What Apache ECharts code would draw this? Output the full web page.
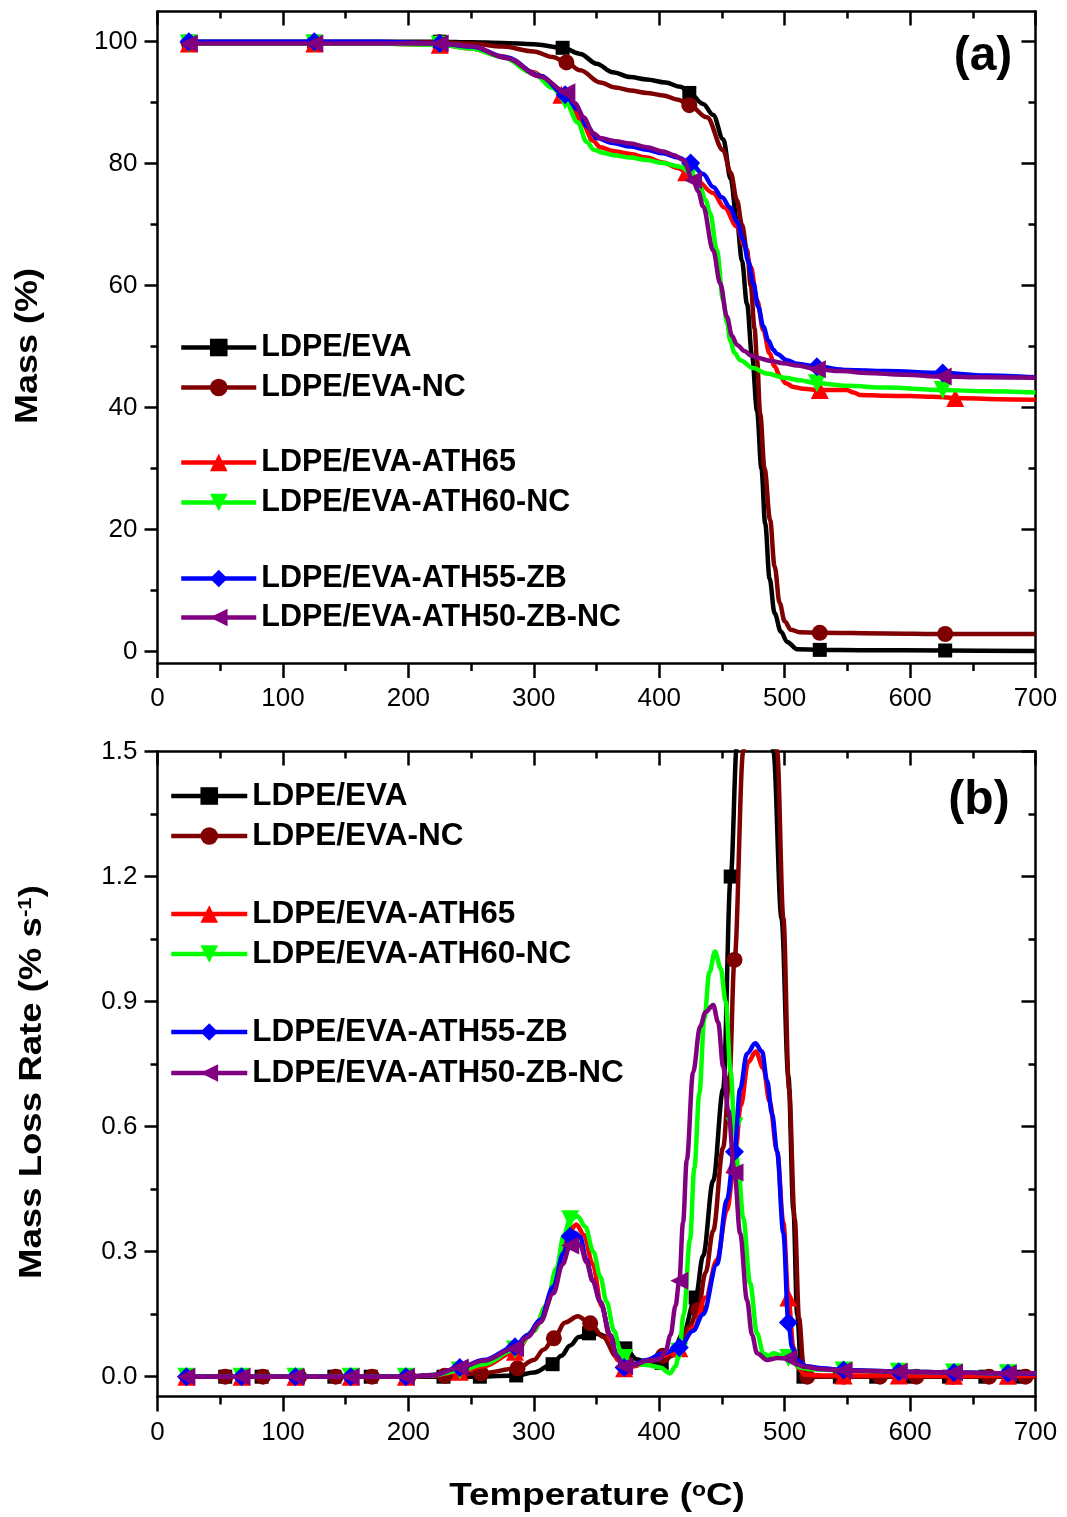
<!DOCTYPE html>
<html><head><meta charset="utf-8">
<script src="https://cdn.jsdelivr.net/npm/echarts@6/dist/echarts.min.js"></script>
<style>html,body{margin:0;padding:0;background:#fff}#c{width:1067px;height:1517px}</style>
</head><body><div id="c"></div>
<script>
const FONT = '"Liberation Sans", Arial, Helvetica, sans-serif';
const seriesNames = ['LDPE/EVA','LDPE/EVA-NC','LDPE/EVA-ATH65','LDPE/EVA-ATH60-NC','LDPE/EVA-ATH55-ZB','LDPE/EVA-ATH50-ZB-NC'];
const colors = ['#000000','#7f0000','#ff0000','#00ff00','#0000ff','#800080'];
const symbols = ['rect','circle','triangle','triangle','diamond','triangle'];
const rotations = [0,0,0,180,0,90];
const symbolSizes = [14,16,18,18,19,18];

const xTickLabels = [0,100,200,300,400,500,600,700];
const yTicksA = [0,20,40,60,80,100];
const yMinorA = [10,30,50,70,90];
const yTicksB = [0,0.3,0.6,0.9,1.2,1.5];
const yMinorB = [0.15,0.45,0.75,1.05,1.35];

// ---------- Panel (a): Mass (%) vs Temperature ----------
const massA_black = [[25,100],[75,100],[125,100],[175,100],[225,100],[250,99.9],[275,99.8],[300,99.6],[323,99.0],[337,98.0],[350,96.4],[363,95.0],[377,94.2],[390,93.8],[405,93.3],[417,92.6],[424,91.6],[435,89.8],[443,88.0],[451,84],[457,77.5],[462,70.5],[466,64],[470,57],[474,48.5],[478,39.5],[481.5,30],[484.5,21],[488,12],[492,6.3],[497,3.3],[502,1.6],[510,0.4],[528,0.3],[560,0.25],[628,0.2],[700,0.1]];
const massA_brown = [[25,99.8],[75,99.8],[125,99.8],[175,99.9],[225,99.9],[250,99.7],[275,99.2],[300,98.4],[315,97.5],[326,96.6],[337,95.3],[353,93.3],[365,92.5],[377,92.0],[390,91.6],[403,91.2],[415,90.5],[424,89.6],[438,87.6],[451,82.2],[457,78.5],[462,74],[466,70],[470,65.8],[473,60],[476,53],[478,47.8],[480.5,39],[484,30],[488.4,21.6],[492,14],[496,8],[500,5],[505,3.6],[512,3.2],[528,3.1],[580,3.0],[628,2.9],[700,2.9]];
const massA_red = [[25,99.7],[75,99.7],[125,99.7],[175,99.7],[225,99.5],[250,98.9],[275,97.6],[300,95],[315,92.6],[322,91.3],[330,89.3],[339,86.5],[347,83.8],[353,82.7],[363,82.1],[377,81.6],[390,81.0],[403,80.2],[415,79.3],[421.5,78.6],[430,77.2],[443,75.2],[452,72.8],[462,69.7],[468,66.5],[473,63.1],[478,57.6],[483,52.7],[488,48.9],[492,46.8],[496.4,45.1],[501,44],[507,43.4],[515,43.1],[528,42.9],[549.6,42.9],[555,42.5],[560,42.1],[580,41.95],[600,41.9],[618.6,41.8],[636,41.6],[670,41.4],[700,41.3]];
const massA_green = [[25,99.7],[75,99.7],[125,99.7],[175,99.7],[225,99.5],[250,98.9],[275,97.5],[300,94.8],[315,92.4],[325,90.3],[335,86.8],[342,83.6],[348,82.3],[355,81.8],[363.5,81.4],[377,81.0],[390,80.6],[403,80.1],[416.6,79.5],[425,78.6],[432.6,76.2],[437,74],[440.6,71.9],[446,65.8],[451,57.6],[454,54],[456.6,51],[460,49],[464.6,47.8],[475,46.5],[485.8,45.6],[500,44.9],[512,44.5],[525.7,44],[550,43.6],[580,43.3],[626,42.9],[660,42.7],[700,42.5]];
const massA_blue = [[25,100],[75,100],[125,100],[175,100],[225,99.7],[250,99.2],[278.5,97.4],[305,94.4],[325,91.3],[335,88.9],[343,86],[350,84.2],[363,83.4],[377,82.8],[390,82.3],[403,81.7],[415,81],[425,80.1],[435,78.3],[443,76.2],[450,74.5],[456.6,72.8],[462,70.5],[467,67.5],[471,64],[475,60.4],[479,56.5],[483,53.3],[487,51],[491,49.5],[494,48.8],[501.7,47.8],[510,47.2],[525.7,46.7],[550,46.2],[580,46],[626,45.7],[660,45.3],[700,45]];
const massA_purple = [[25,99.7],[75,99.7],[125,99.7],[175,99.7],[225,99.7],[250,99.3],[278.5,97.3],[305,94.3],[326,91.7],[333,89.9],[339.5,87.6],[347.5,85],[353,84.2],[365,83.7],[377,83.3],[390,82.7],[403,82],[412,81.4],[419,80.6],[427,77.3],[431,75.5],[435,73],[443,65.8],[448.6,60.4],[454,54.9],[458,51.8],[462,50.3],[468,49.3],[472.7,48.6],[478,48.2],[488,47.7],[499,47.3],[510,46.9],[525.7,46.3],[545,46],[565.5,45.7],[595,45.4],[626,45.1],[660,45],[700,44.9]];

const markA_black = [25,125,225,323,424,528,628];
const markA_brown = [25,125,225,326,424,528,628];
const markA_red = [25,125,225,322,421.5,528,636];
const markA_green = [25,125,225,325,425,525.7,626];
const markA_blue = [25,125,225,325,425,525.7,626];
const markA_purple = [25,125,225,326,427,525.7,626];

// ---------- Panel (b): Mass loss rate (% s-1) vs Temperature ----------
const rateB_black = [[25,0],[54,0],[83,0],[112,0],[141,0],[170,0],[199,0],[228,0],[257,0],[286,0.003],[300,0.01],[315,0.03],[322,0.05],[329,0.075],[336,0.095],[344,0.104],[352,0.102],[358,0.096],[365,0.085],[373,0.068],[382,0.042],[390,0.035],[402,0.033],[410,0.05],[419,0.104],[429,0.19],[435,0.29],[443,0.47],[451,0.69],[457,1.2],[462,1.52],[470,2.05],[478,2.4],[486,1.9],[491,1.5],[497.5,1.1],[503,0.72],[507,0.4],[510,0.15],[513,0.03],[515,0],[544,0],[573,0],[602,0],[631,0],[660,0],[689,0],[700,0]];
const rateB_brown = [[25,0],[54,0],[84,0],[113,0],[142,0],[171,0],[200,0],[229,0.002],[258,0.008],[287,0.02],[300,0.04],[308,0.065],[316,0.092],[325,0.13],[335,0.145],[345,0.128],[355,0.096],[366,0.048],[374,0.032],[385,0.03],[395,0.038],[403,0.05],[410,0.062],[417,0.085],[424,0.12],[431,0.16],[437,0.25],[443,0.35],[451,0.55],[456,0.72],[460,1.0],[467,1.5],[474,2.0],[481,2.35],[489,1.9],[494,1.5],[499,1.1],[503.5,0.69],[508,0.38],[511.5,0.14],[515,0.03],[518,0],[547,0],[576,0],[605,0],[634,0],[663,0],[692,0],[700,0]];
const rateB_red = [[23,0],[67,0],[110,0],[154,0],[198,0],[220,0.003],[241,0.012],[260,0.025],[285,0.06],[300,0.11],[310,0.17],[318,0.25],[324,0.32],[329,0.352],[334,0.365],[340,0.34],[347,0.27],[354,0.17],[361,0.09],[367,0.04],[372,0.02],[380,0.025],[390,0.035],[403,0.05],[416,0.068],[428,0.12],[437,0.19],[446,0.28],[454,0.4],[460,0.51],[465,0.65],[471,0.755],[477,0.78],[483,0.74],[488,0.66],[494,0.54],[499,0.37],[503,0.19],[507,0.07],[511,0.02],[516,0.005],[530,0.003],[547,0.003],[591,0.003],[635,0.002],[678,0.002],[700,0.002]];
const rateB_green = [[23,0],[67,0],[110,0],[154,0],[198,0],[220,0.004],[241,0.015],[260,0.03],[285,0.065],[300,0.11],[310,0.17],[318,0.26],[324,0.34],[329,0.378],[335,0.385],[341,0.36],[347.5,0.3],[353,0.24],[358,0.18],[364,0.11],[369,0.064],[372,0.045],[380,0.03],[390,0.028],[400.7,0.022],[408.7,0.008],[413,0.025],[416,0.06],[419.5,0.15],[424.6,0.33],[428,0.5],[432,0.68],[436,0.86],[440,0.97],[444.5,1.02],[449,0.98],[453,0.9],[457,0.73],[460,0.6],[463,0.5],[467,0.38],[472.5,0.224],[478,0.104],[483,0.056],[487,0.05],[491,0.056],[496,0.052],[503,0.045],[507,0.033],[512,0.022],[520,0.018],[547,0.015],[591,0.012],[635,0.01],[678,0.008],[700,0.008]];
const rateB_blue = [[23,0],[67,0],[110,0],[154,0],[198,0],[220,0.004],[241,0.022],[260,0.04],[285,0.072],[295,0.1],[305,0.136],[315.6,0.216],[323.6,0.296],[329,0.337],[333,0.345],[337,0.335],[342,0.28],[347,0.23],[353,0.18],[361,0.1],[366,0.05],[372,0.022],[380,0.03],[390,0.04],[403,0.056],[416,0.07],[427,0.11],[435,0.15],[446,0.27],[454,0.424],[460,0.54],[464.5,0.69],[470,0.775],[476.6,0.8],[482,0.78],[486,0.71],[490,0.63],[494,0.54],[499,0.344],[503,0.13],[506,0.07],[510,0.04],[517,0.025],[530,0.02],[547,0.016],[591,0.012],[635,0.01],[678,0.008],[700,0.007]];
const rateB_purple = [[23,0],[67,0],[110,0],[154,0],[198,0],[220,0.004],[241,0.022],[260,0.038],[285,0.068],[295,0.095],[305,0.13],[315.6,0.2],[323,0.27],[329,0.315],[333,0.325],[337,0.315],[342,0.275],[347,0.23],[353,0.18],[361,0.1],[366,0.05],[372,0.025],[380,0.028],[390,0.038],[400,0.042],[405,0.06],[409,0.1],[413,0.17],[416,0.23],[419,0.37],[422,0.52],[427,0.73],[432.6,0.84],[437,0.875],[443,0.892],[447,0.85],[451,0.744],[455,0.64],[460,0.49],[464.5,0.344],[470,0.184],[474,0.1],[478,0.056],[486,0.04],[494,0.045],[503,0.044],[510,0.03],[515,0.024],[530,0.018],[547,0.015],[591,0.012],[635,0.01],[678,0.008],[700,0.008]];

const markB_black = [54,83,112,141,170,199,228,257,286,315,344,373,402,429,457,486,515,544,573,602,631,660,689];
const markB_brown = [54,84,113,142,171,200,229,258,287,316,345,374,403,431,460,489,518,547,576,605,634,663,692];
const markB_ath = [23,67,110,154,198,241,285,329,372,416,460,503,547,591,635,678];

// ---------- build ----------
function buildData(points, markers){
  const set = new Set(markers);
  return points.map(p => set.has(p[0]) ? {value: p} : {value: p, symbol: 'none'});
}
function mkSeries(idx, points, markers, xi, yi){
  return {
    type: 'line', name: seriesNames[idx], xAxisIndex: xi, yAxisIndex: yi,
    data: buildData(points, markers), smooth: 0.35, smoothMonotone: 'x',
    symbol: symbols[idx], symbolRotate: rotations[idx], symbolSize: symbolSizes[idx],
    showSymbol: true, showAllSymbol: true, clip: true,
    lineStyle: {color: colors[idx], width: 4.5}, itemStyle: {color: colors[idx]},
    z: 2 + idx, animation: false, emphasis: {disabled: true}, silent: true
  };
}
const tickStyle = {color: '#000', width: 2.5};
const lineStyle = {color: '#000', width: 2.5};
function xAxisDef(gi, pos, labels){
  return {
    gridIndex: gi, type: 'value', min: 0, max: 700, interval: 100, position: pos,
    axisLine: {show: true, onZero: false, lineStyle},
    axisTick: {show: true, inside: pos === 'top', length: pos === 'top' ? 14 : 15, lineStyle: tickStyle},
    minorTick: {show: true, splitNumber: 2, length: pos === 'top' ? 7 : 8, lineStyle: tickStyle},
    axisLabel: {show: labels, margin: 23, fontSize: 26, color: '#000', fontFamily: FONT, customValues: xTickLabels},
    splitLine: {show: false}, minorSplitLine: {show: false}
  };
}
function hiddenX(gi){
  return {gridIndex: gi, type: 'value', min: 0, max: 700, show: false, splitLine: {show: false}};
}
function yAxisDef(gi, pos, min, max, ticks, labels, len, fmt, showLine){
  return {
    gridIndex: gi, type: 'value', min, max, position: pos,
    axisLine: {show: showLine, onZero: false, lineStyle},
    axisTick: {show: true, inside: pos === 'right', length: len, lineStyle: tickStyle, customValues: ticks},
    axisLabel: {show: labels, margin: 20, fontSize: 26, color: '#000', fontFamily: FONT, customValues: ticks, formatter: fmt},
    splitLine: {show: false}
  };
}
const fmtA = v => String(Math.round(v));
const fmtB = v => Number(v).toFixed(1);
const A_MIN = -1.85, A_MAX = 104.95, B_MIN = -0.0475, B_MAX = 1.5;

const gridA = {left: 157.5, top: 11.5, width: 878, height: 651.5};
const gridB = {left: 157.5, top: 751.5, width: 878, height: 645};

const legendCommon = {orient: 'vertical', padding: 0, itemHeight: 22,
  selectedMode: false, lineStyle: {width: 4.5}, symbolRotate: 'inherit'};
function legendDef(names, left, top, fs, gap, iw){
  return Object.assign({}, legendCommon, {data: names, left, top, itemGap: gap, itemWidth: iw,
    textStyle: {fontSize: fs, fontWeight: 'bold', color: '#000', fontFamily: FONT, lineHeight: fs}});
}
const supStyle = (fs) => ({fontSize: fs, fontWeight: 'bold', fontFamily: FONT, fill: '#000', verticalAlign: 'top', lineHeight: 12});

const option = {
  animation: false,
  backgroundColor: '#fff',
  grid: [
    Object.assign({outerBoundsMode: 'none'}, gridA),
    Object.assign({outerBoundsMode: 'none'}, gridA),
    Object.assign({outerBoundsMode: 'none'}, gridB),
    Object.assign({outerBoundsMode: 'none'}, gridB)
  ],
  xAxis: [
    xAxisDef(0, 'bottom', true), xAxisDef(0, 'top', false), hiddenX(1),
    xAxisDef(2, 'bottom', true), xAxisDef(2, 'top', false), hiddenX(3)
  ],
  yAxis: [
    yAxisDef(0, 'left', A_MIN, A_MAX, yTicksA, true, 13, fmtA, true),
    yAxisDef(0, 'right', A_MIN, A_MAX, yTicksA, false, 14, fmtA, true),
    yAxisDef(1, 'left', A_MIN, A_MAX, yMinorA, false, 7, fmtA, false),
    yAxisDef(1, 'right', A_MIN, A_MAX, yMinorA, false, 7, fmtA, false),
    yAxisDef(2, 'left', B_MIN, B_MAX, yTicksB, true, 13, fmtB, true),
    yAxisDef(2, 'right', B_MIN, B_MAX, yTicksB, false, 14, fmtB, true),
    yAxisDef(3, 'left', B_MIN, B_MAX, yMinorB, false, 7, fmtB, false),
    yAxisDef(3, 'right', B_MIN, B_MAX, yMinorB, false, 7, fmtB, false)
  ],
  legend: [
    legendDef(seriesNames.slice(0,2), 179, 332, 30.5, 9, 75),
    legendDef(seriesNames.slice(2,4), 179, 447, 30.5, 9, 75),
    legendDef(seriesNames.slice(4,6), 179, 563, 30.5, 8, 75),
    legendDef(seriesNames.slice(0,2), 169, 780, 31.5, 8, 76),
    legendDef(seriesNames.slice(2,4), 169, 898, 31.5, 8, 76),
    legendDef(seriesNames.slice(4,6), 169, 1016, 31.5, 9, 76)
  ],
  graphic: [
    {type: 'text', x: 983, y: 57, style: {text: '(a)', font: 'bold 48px ' + FONT, fill: '#000', align: 'center', verticalAlign: 'middle', textAlign: 'center', textVerticalAlign: 'middle'}},
    {type: 'text', x: 979, y: 801, style: {text: '(b)', font: 'bold 48px ' + FONT, fill: '#000', align: 'center', verticalAlign: 'middle', textAlign: 'center', textVerticalAlign: 'middle'}},
    {type: 'text', x: 28, y: 346, rotation: Math.PI / 2, scaleX: 1.16,
      style: {text: 'Mass (%)', font: 'bold 31px ' + FONT, fill: '#000', align: 'center', verticalAlign: 'middle', textAlign: 'center', textVerticalAlign: 'middle'}},
    {type: 'text', x: 32, y: 1082, rotation: Math.PI / 2, scaleX: 1.18,
      style: {text: 'Mass Loss Rate (% s{sup|-1})', font: 'bold 31px ' + FONT, fill: '#000', align: 'center', verticalAlign: 'middle', textAlign: 'center', textVerticalAlign: 'middle',
        rich: {sup: supStyle(19)}}},
    {type: 'text', x: 597, y: 1496, scaleX: 1.15,
      style: {text: 'Temperature ({sup|o}C)', font: 'bold 32px ' + FONT, fill: '#000', align: 'center', verticalAlign: 'middle', textAlign: 'center', textVerticalAlign: 'middle',
        rich: {sup: supStyle(20)}}}
  ],
  series: [
    mkSeries(0, massA_black, markA_black, 0, 0),
    mkSeries(1, massA_brown, markA_brown, 0, 0),
    mkSeries(2, massA_red, markA_red, 0, 0),
    mkSeries(3, massA_green, markA_green, 0, 0),
    mkSeries(4, massA_blue, markA_blue, 0, 0),
    mkSeries(5, massA_purple, markA_purple, 0, 0),
    mkSeries(0, rateB_black, markB_black, 3, 4),
    mkSeries(1, rateB_brown, markB_brown, 3, 4),
    mkSeries(2, rateB_red, markB_ath, 3, 4),
    mkSeries(3, rateB_green, markB_ath, 3, 4),
    mkSeries(4, rateB_blue, markB_ath, 3, 4),
    mkSeries(5, rateB_purple, markB_ath, 3, 4)
  ]
};
const chart = echarts.init(document.getElementById('c'), null, {renderer: 'canvas'});
chart.setOption(option);
</script></body></html>
